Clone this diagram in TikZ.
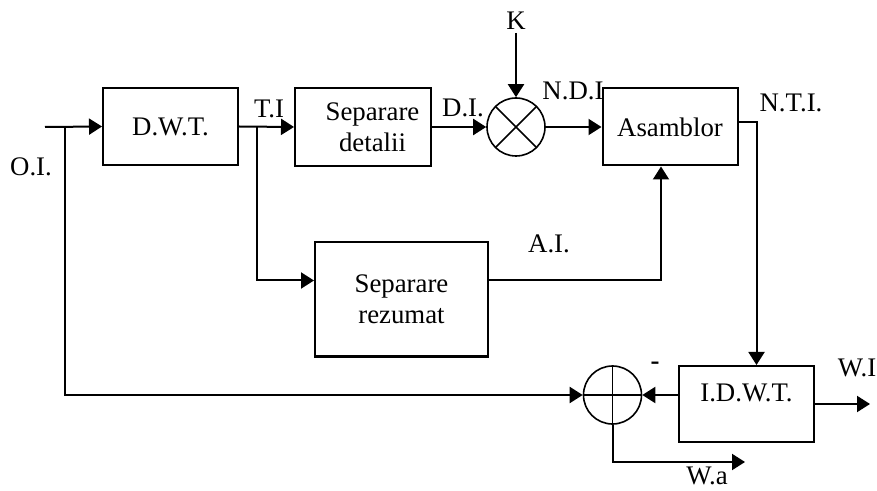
\documentclass[tikz,border=0pt]{standalone}
\usepackage{fontspec}
\setmainfont{Liberation Serif}
\usetikzlibrary{arrows.meta, positioning, calc}

\begin{document}
\begin{tikzpicture}[
    x=0.5pt, y=-0.5pt,
    font=\fontsize{13.4}{15.5}\selectfont,
    line width=1pt,
    box/.style={draw, minimum width=67.5pt, minimum height=38.5pt, align=center, inner sep=2pt},
    circ/.style={draw, circle, minimum size=29pt, inner sep=0pt, line width=0.8pt},
    mult/.style={circ, path picture={
        \draw (path picture bounding box.north west) -- (path picture bounding box.south east)
              (path picture bounding box.north east) -- (path picture bounding box.south west);}},
    summ/.style={circ, path picture={
        \draw (path picture bounding box.north) -- (path picture bounding box.south)
              (path picture bounding box.west) -- (path picture bounding box.east);}},
    lbl/.style={inner sep=1pt},
    arr/.style={-{Triangle[length=6.5pt,width=8pt]}}
  ]
    \useasboundingbox (0,0) rectangle (877,491);
    \node[box] (dwt) at (170.5,126.5) {D.W.T.};
    \node[box, minimum width=68pt, minimum height=39pt] (sepdet) at (363,127)
        {\hspace*{9.5pt}Separare\\\hspace*{9.5pt}detalii};
    \node[mult] (mult) at (516,127) {};
    \node[box] (asm) at (670,127) {Asamblor};
    \node[box, minimum width=86.5pt, minimum height=57pt] (seprez) at (401.5,299.5) {Separare\\rezumat};
    \node[summ] (sum) at (612.5,395) {};
    \node[box, minimum height=38pt, text depth=11pt] (idwt) at (746.5,404) {I.D.W.T.};

    \node[lbl] (k) at (516,21) {K};
    \node[lbl] (oilbl) at (31,167) {O.I.};
    \node[lbl] (tilbl) at (269,109) {T.I};
    \node[lbl] (dilbl) at (463,108) {D.I.};
    \node[lbl] (ndilbl) at (573,91) {N.D.I};
    \node[lbl] (ntilbl) at (791,103) {N.T.I.};
    \node[lbl] (ailbl) at (549,244) {A.I.};
    \node[lbl] (minus) at (655,366) {\textbf{-}};
    \node[lbl] (wilbl) at (857,368) {W.I};
    \node[lbl] (walbl) at (707,476) {W.a};

    \coordinate (in) at (45,127);
    \coordinate (oi) at (65,127);
    \coordinate (ti) at (257,127);
    \coordinate (wi) at (870,404);
    \coordinate (wa) at (745,462);

    \draw[arr] (in) -- (dwt.west);
    \draw[arr] (oi) |- (sum.west);
    \draw[arr] (dwt.east) -- (sepdet.west);
    \draw[arr] (ti) |- ([yshift=9.5pt]seprez.west);
    \draw[arr] (sepdet.east) -- (mult.west);
    \draw[arr] (k) -- (mult.north);
    \draw[arr] (mult.east) -- (asm.west);
    \draw[arr] ([yshift=9.5pt]seprez.east) -| ([xshift=-4.5pt]asm.south);
    \draw[arr] ([yshift=2.6pt]asm.east) -| ([xshift=5pt]idwt.north);
    \draw[arr] ([yshift=4.5pt]idwt.west) -- (sum.east);
    \draw[arr] (idwt.east) -- (wi);
    \draw[arr] (sum.south) |- (wa);
  \end{tikzpicture}
\end{document}
